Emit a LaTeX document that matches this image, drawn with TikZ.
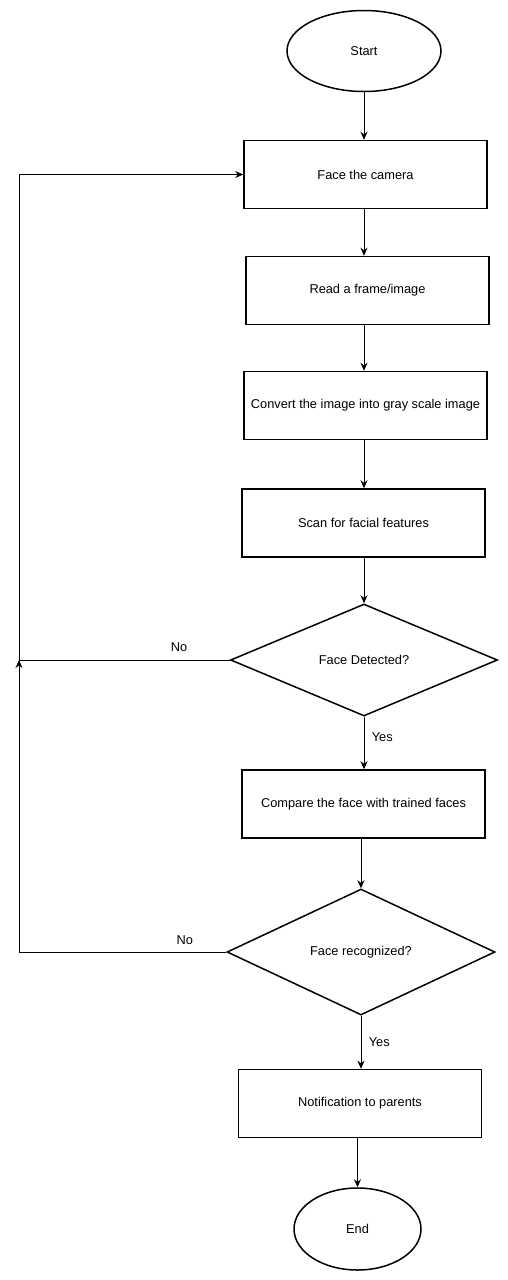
\documentclass[tikz,border=0pt]{standalone}
\usepackage{fontspec}
\setmainfont{Liberation Sans}
\usetikzlibrary{calc, positioning}
\usetikzlibrary{arrows.meta}
\usetikzlibrary{shapes.geometric}

\begin{document}
\begin{tikzpicture}[x=1pt, y=-1pt,
  every node/.style={font=\fontsize{12.8}{14}\selectfont},
  box/.style={draw, line width=1.5pt, minimum width=243pt, minimum height=68pt, inner sep=0pt},
  term/.style={draw, ellipse, line width=1.5pt, inner sep=0pt},
  decide/.style={draw, diamond, aspect=2.4, line width=1.5pt, inner sep=0pt},
  arr/.style={-{Stealth[length=8pt, width=7pt]}, line width=0.9pt},
  lbl/.style={font=\fontsize{12.8}{14}\selectfont}]
\useasboundingbox (0,0) rectangle (508,1280);
\node[term, minimum width=154pt, minimum height=81pt] (start) at (364,51) {Start};
\node[box] (face) at (365.5,174.5) {Face the camera};
\node[box] (read) at (367.5,290.5) {Read a frame/image};
\node[box] (gray) at (365.5,405.5) {Convert the image into gray scale image};
\node[box] (scan) at (363.5,523) {Scan for facial features};
\node[decide, minimum width=267pt, minimum height=112pt] (detected) at (364,660) {Face Detected?};
\node[box] (compare) at (363.5,804) {Compare the face with trained faces};
\node[decide, minimum width=268pt, minimum height=126pt] (recog) at (361,952) {Face recognized?};
\node[box] (notify) at (360,1103.5) {Notification to parents};
\node[term, minimum width=127pt, minimum height=82pt] (stop) at (357.5,1229) {End};
\coordinate (loop) at (19,660);
% main line
\draw[arr] (start.south) -- (start.south |- face.north);
\draw[arr] (face.south -| start.south) -- (start.south |- read.north);
\draw[arr] (read.south -| start.south) -- (start.south |- gray.north);
\draw[arr] (gray.south -| start.south) -- (start.south |- scan.north);
\draw[arr] (scan.south -| start.south) -- (detected.north);
\draw[arr] (detected.south) -- node[lbl, right=4pt, pos=0.39] {Yes} (detected.south |- compare.north);
\draw[arr] (compare.south -| recog.north) -- (recog.north);
\draw[arr] (recog.south) -- node[lbl, right=4pt, pos=0.5] {Yes} (recog.south |- notify.north);
\draw[arr] (notify.south -| stop.north) -- (stop.north);
% back to the camera
\draw[arr] (detected.west) -- node[lbl, above=5pt, pos=0.24] {No} (loop) |- (face.west);
\draw[arr] (recog.west) -- node[lbl, above=4pt, pos=0.2] {No} (recog.west -| loop) -- (loop);
\end{tikzpicture}
\end{document}
